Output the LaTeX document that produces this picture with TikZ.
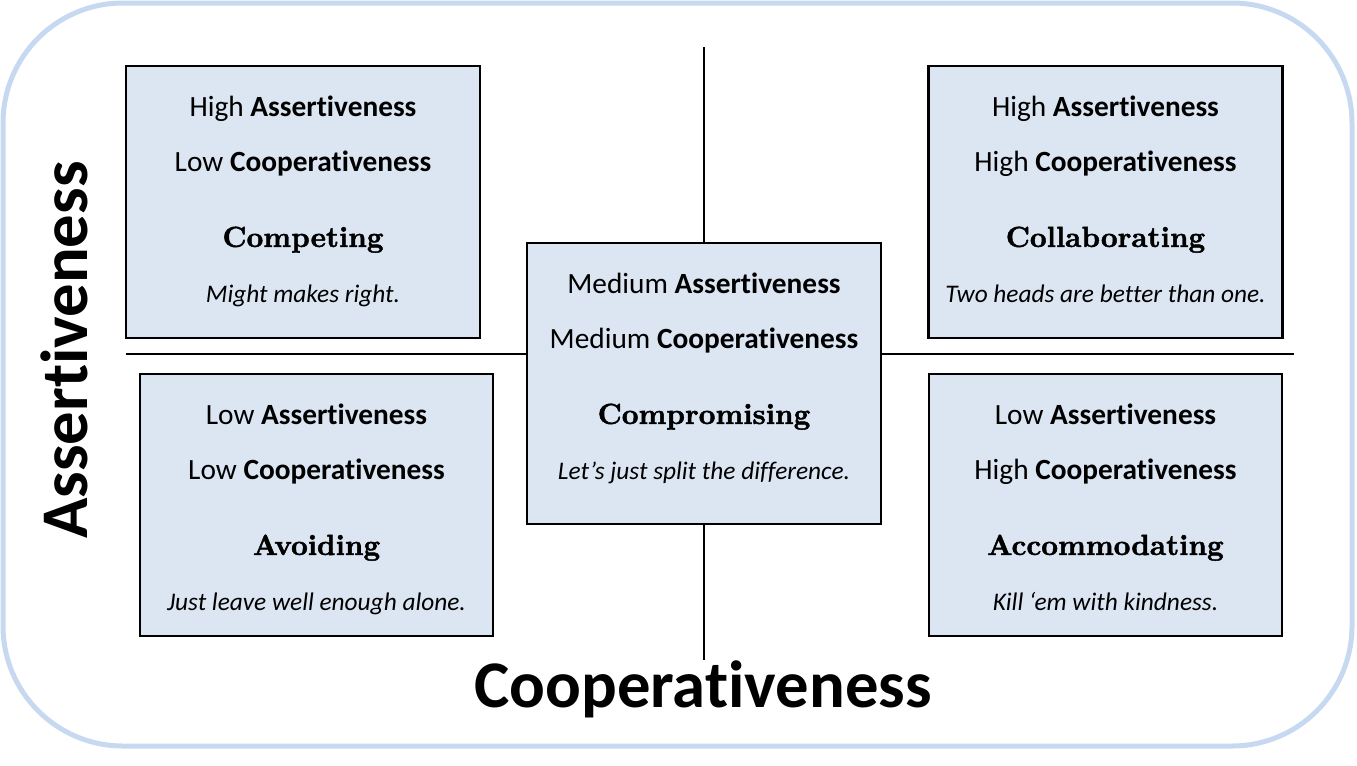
\documentclass[tikz,border=0pt]{standalone}
\usepackage{fontspec}
\setsansfont{Carlito}[Ligatures=NoCommon]
\newfontfamily\headfont{lmroman10-bold.otf}[FakeBold=1.6]
\usetikzlibrary{positioning}
\usetikzlibrary{calc}
\definecolor{qFill}{HTML}{DCE6F2}
\definecolor{qFrame}{HTML}{C6D9F1}

\begin{document}
\begin{tikzpicture}[
    x=0.75pt, y=-0.75pt,
    frame/.style = {draw=qFrame, line width=3.75pt, rounded corners=90pt},
    axis/.style = {draw=black, line width=1.9pt},
    quad/.style = {draw=black, line width=1.6pt, fill=qFill, inner sep=0pt},
    level/.style = {anchor=base, font=\sffamily\fontsize{22}{26}\selectfont, inner sep=0pt},
    heading/.style = {anchor=base, font=\headfont\fontsize{21.8}{26}\selectfont, inner sep=0pt},
    motto/.style = {anchor=base, font=\sffamily\itshape\fontsize{19}{23}\selectfont, inner sep=0pt},
    axislabel/.style = {font=\sffamily\bfseries\fontsize{50}{60}\selectfont, inner sep=0pt},
    ]

    \useasboundingbox (0,0) rectangle (1357,765);
    \draw[frame] (3,3) rectangle (1352,746);

    % axes
    \coordinate (hLeft) at (126,354);
    \coordinate (hRight) at (1294,354);
    \coordinate (vTop) at (704,47);
    \coordinate (vBottom) at (704,660);
    \draw[axis] (hLeft) -- (hRight);
    \draw[axis] (vTop) -- (vBottom);

    % quadrant boxes
    \node[quad, minimum width=265.5pt, minimum height=204pt] (compete) at (303,202) {};
    \node[quad, minimum width=265.5pt, minimum height=204pt] (collab) at (1105.5,202) {};
    \node[quad, minimum width=264.75pt, minimum height=196.5pt] (avoid) at (316.5,505) {};
    \node[quad, minimum width=264.75pt, minimum height=196.5pt] (accom) at (1105.5,505) {};
    \node[quad, minimum width=265.5pt, minimum height=210.75pt] (comprom) at (704,383.5) {};

    % competing
    \node[level] at ($(compete.north)+(0,52)$) {High \textbf{Assertiveness}};
    \node[level] at ($(compete.north)+(0,107)$) {Low \textbf{Cooperativeness}};
    \node[heading] at ($(compete.north)+(0,182)$) {Competing};
    \node[motto] at ($(compete.north)+(0,238)$) {Might makes right.};

    % collaborating
    \node[level] at ($(collab.north)+(0,52)$) {High \textbf{Assertiveness}};
    \node[level] at ($(collab.north)+(0,107)$) {High \textbf{Cooperativeness}};
    \node[heading] at ($(collab.north)+(0,182)$) {Collaborating};
    \node[motto] at ($(collab.north)+(0,238)$) {Two heads are better than one.};

    % avoiding
    \node[level] at ($(avoid.north)+(0,52)$) {Low \textbf{Assertiveness}};
    \node[level] at ($(avoid.north)+(0,107)$) {Low \textbf{Cooperativeness}};
    \node[heading] at ($(avoid.north)+(0,182)$) {Avoiding};
    \node[motto] at ($(avoid.north)+(0,238)$) {Just leave well enough alone.};

    % accommodating
    \node[level] at ($(accom.north)+(0,52)$) {Low \textbf{Assertiveness}};
    \node[level] at ($(accom.north)+(0,107)$) {High \textbf{Cooperativeness}};
    \node[heading] at ($(accom.north)+(0,182)$) {Accommodating};
    \node[motto] at ($(accom.north)+(0,238)$) {Kill ‘em with kindness.};

    % compromising
    \node[level] at ($(comprom.north)+(0,52)$) {Medium \textbf{Assertiveness}};
    \node[level] at ($(comprom.north)+(0,107)$) {Medium \textbf{Cooperativeness}};
    \node[heading] at ($(comprom.north)+(0,182)$) {Compromising};
    \node[motto] at ($(comprom.north)+(0,238)$) {Let’s just split the difference.};

    % axis labels
    \node[axislabel, anchor=base] (coopLabel) at (703,707) {Cooperativeness};
    \node[axislabel, anchor=base, rotate=90] (assertLabel) at (87,350) {Assertiveness};

  \end{tikzpicture}
\end{document}
